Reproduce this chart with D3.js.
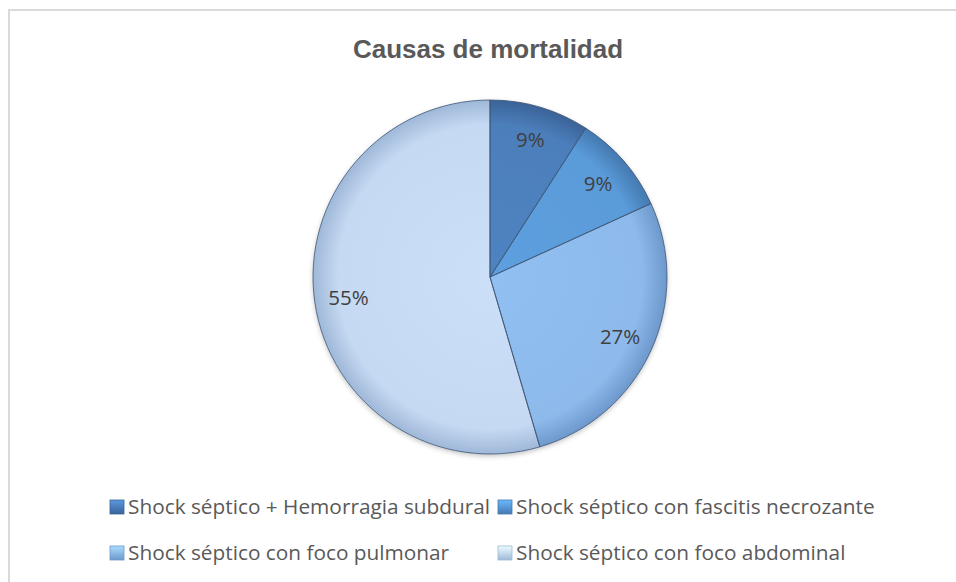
<!DOCTYPE html>
<meta charset="utf-8">
<style>
  body { margin: 0px; background: #fff; }
  .title { font-family: 'Liberation Sans', Arial, sans-serif; font-weight: bold; font-size: 26px; fill: #595959; }
  .lbl { font-family: 'Open Sans', sans-serif; font-size: 20.5px; fill: #404040; }
  .leg text { font-family: 'Open Sans', sans-serif; font-size: 20.8px; fill: #595959; }
</style>
<body>
<svg id="chart" width="956" height="582"></svg>
<script src="https://cdn.jsdelivr.net/npm/d3@7"></script>
<script>
// data (11 cases)
var categories = ["Shock séptico + Hemorragia subdural", "Shock séptico con fascitis necrozante",
                  "Shock séptico con foco pulmonar", "Shock séptico con foco abdominal"];
var values = [1, 1, 3, 6];
var colors = ["#4c7fbc", "#5a9bd9", "#8dbaeb", "#c5d9f2"];
var edgeColors = ["#3a6398", "#4479b0", "#6d98cc", "#9fb8d8"];

var svg = d3.select("#chart"),
    cx = 490, cy = 277, radius = 177;

// frame
svg.append("rect")
    .attr("x", 9).attr("y", 10).attr("width", 970).attr("height", 620)
    .attr("fill", "#fff").attr("stroke", "#d9d9d9").attr("stroke-width", 2);

svg.append("text").attr("class", "title")
    .attr("x", 488).attr("y", 58).attr("text-anchor", "middle")
    .text("Causas de mortalidad");

var defs = svg.append("defs");

var shadow = defs.append("filter").attr("id", "shadow")
    .attr("x", "-10%").attr("y", "-10%").attr("width", "120%").attr("height", "120%");
shadow.append("feDropShadow").attr("dx", 0).attr("dy", 2).attr("stdDeviation", 2.5)
    .attr("flood-color", "#000").attr("flood-opacity", 0.25);

colors.forEach(function(c, i) {
  var g = defs.append("radialGradient").attr("id", "grad" + i)
      .attr("gradientUnits", "userSpaceOnUse")
      .attr("cx", 0).attr("cy", 0).attr("r", radius);
  g.append("stop").attr("offset", "0%").attr("stop-color", d3.color(c).brighter(0.08));
  g.append("stop").attr("offset", "86%").attr("stop-color", c);
  g.append("stop").attr("offset", "100%").attr("stop-color", edgeColors[i]);

  var lg = defs.append("linearGradient").attr("id", "leg" + i)
      .attr("x1", 0).attr("y1", 0).attr("x2", 0).attr("y2", 1);
  lg.append("stop").attr("offset", "0%").attr("stop-color", d3.color(c).brighter(0.5));
  lg.append("stop").attr("offset", "100%").attr("stop-color", edgeColors[i]);
});

var pie = d3.pie().sort(null).value(function(d) { return d; });
var arcs = pie(values);
var arc = d3.arc().innerRadius(0).outerRadius(radius);
var labelArc = d3.arc().innerRadius(143).outerRadius(143);
var pct = d3.format(".0%");
var total = d3.sum(values);

var g = svg.append("g").attr("transform", "translate(" + cx + "," + cy + ")");

g.append("g").attr("filter", "url(#shadow)")
  .selectAll("path").data(arcs).enter().append("path")
    .attr("d", arc)
    .attr("fill", function(d, i) { return "url(#grad" + i + ")"; });

// bevel highlight along the slice edges
arcs.forEach(function(d, i) {
  defs.append("clipPath").attr("id", "clip" + i)
    .append("path").attr("d", arc(d)).attr("transform", "translate(" + cx + "," + cy + ")");
});
svg.append("g").selectAll("path").data(arcs).enter().append("path")
    .attr("transform", "translate(" + cx + "," + cy + ")")
    .attr("d", arc)
    .attr("clip-path", function(d, i) { return "url(#clip" + i + ")"; })
    .attr("fill", "none")
    .attr("stroke", "#ffffff").attr("stroke-opacity", 0.35).attr("stroke-width", 6);

var g2 = svg.append("g").attr("transform", "translate(" + cx + "," + cy + ")");
g2.selectAll("path").data(arcs).enter().append("path")
    .attr("d", arc)
    .attr("fill", "none")
    .attr("stroke", "#3d5676").attr("stroke-opacity", 0.8).attr("stroke-width", 1);

g2.selectAll("text").data(arcs).enter().append("text")
    .attr("class", "lbl")
    .attr("transform", function(d) { return "translate(" + labelArc.centroid(d) + ")"; })
    .attr("text-anchor", "middle")
    .attr("dy", "0.35em")
    .text(function(d) { return pct(d.value / total); });

// legend, two columns by two rows
var legX = [110, 498], legY = [514, 560];
var leg = svg.append("g").attr("class", "leg")
  .selectAll("g").data(categories).enter().append("g")
    .attr("transform", function(d, i) { return "translate(" + legX[i % 2] + "," + legY[Math.floor(i / 2)] + ")"; });

leg.append("rect")
    .attr("x", 0).attr("y", -14).attr("width", 14).attr("height", 14)
    .attr("fill", function(d, i) { return "url(#leg" + i + ")"; })
    .attr("stroke", function(d, i) { return edgeColors[i]; }).attr("stroke-width", 0.8);

leg.append("text")
    .attr("x", 18).attr("y", 0)
    .text(function(d) { return d; });
</script>
</body>
